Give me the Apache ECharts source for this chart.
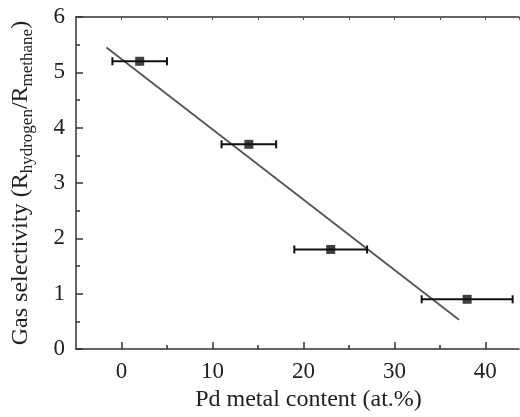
<!DOCTYPE html>
<html>
<head>
<meta charset="utf-8">
<script src="https://cdn.jsdelivr.net/npm/echarts@6/dist/echarts.min.js"></script>
<style>
  html, body { margin: 0; padding: 0; background: #fff; }
  #chart { width: 520px; height: 417px; }
</style>
</head>
<body>
<div id="chart"></div>
<script>
// measured points (Pd content vs. selectivity) with horizontal error
const pdContent = [2, 14, 23, 38];
const selectivity = [5.2, 3.7, 1.8, 0.9];
const pdError = [3, 3, 4, 5];

// fitted line endpoints as drawn
const fitLine = [[-1.65, 5.45], [37.1, 0.53]];

const xMajorTicks = [0, 10, 20, 30, 40];
const xMinorTicks = [5, 15, 25, 35];

const font = 'Liberation Serif';
const xMin = -5;
const xMax = 43.7;

const points = pdContent.map((x, i) => [x, selectivity[i]]);
const errorBars = pdContent.map((x, i) => [x, selectivity[i], x - pdError[i], x + pdError[i]]);

const myChart = echarts.init(document.getElementById('chart'));

const axisLine = { show: true, onZero: false, lineStyle: { color: '#333', width: 1.5 } };

const option = {
    animation: false,
    grid: { left: 76, right: 1, top: 17, bottom: 66 },
    xAxis: [
        {
            type: 'value',
            min: xMin,
            max: xMax,
            position: 'bottom',
            axisLine: axisLine,
            splitLine: { show: false },
            axisTick: {
                inside: true, length: 7, customValues: xMajorTicks,
                lineStyle: { color: '#333', width: 1.5 }
            },
            axisLabel: {
                customValues: xMajorTicks, margin: 11,
                fontFamily: font, fontSize: 23, color: '#222'
            },
            name: 'Pd metal content (at.%)',
            nameLocation: 'middle',
            nameGap: 37,
            nameTextStyle: { fontFamily: font, fontSize: 24, color: '#222', padding: [0, 0, 0, 22] }
        },
        {
            type: 'value',
            min: xMin,
            max: xMax,
            position: 'bottom',
            axisLine: { show: false, onZero: false },
            splitLine: { show: false },
            axisTick: {
                inside: true, length: 4, customValues: xMinorTicks,
                lineStyle: { color: '#333', width: 1.5 }
            },
            axisLabel: { show: false }
        },
        {
            type: 'value',
            min: xMin,
            max: xMax,
            interval: 5,
            position: 'top',
            axisLine: axisLine,
            splitLine: { show: false },
            axisTick: { inside: true, length: 3, lineStyle: { color: '#555', width: 1 } },
            axisLabel: { show: false }
        }
    ],
    yAxis: {
        type: 'value',
        min: 0,
        max: 6,
        interval: 1,
        axisLine: axisLine,
        splitLine: { show: false },
        axisTick: { inside: true, length: 7, lineStyle: { color: '#333', width: 1.5 } },
        minorTick: { show: true, splitNumber: 2, length: 4, lineStyle: { color: '#333', width: 1.5 } },
        axisLabel: { margin: 11, fontFamily: font, fontSize: 23, color: '#222' },
        name: '{m|Gas selectivity (R}{s|hydrogen}{m|/R}{s|methane}{m|)}',
        nameLocation: 'middle',
        nameRotate: 90,
        nameGap: 40,
        nameTextStyle: {
            fontFamily: font, fontSize: 24, color: '#222',
            rich: {
                m: { fontFamily: font, fontSize: 24, lineHeight: 30, color: '#222' },
                s: { fontFamily: font, fontSize: 17, lineHeight: 17, verticalAlign: 'bottom', color: '#222' }
            }
        }
    },
    series: [
        {
            type: 'line',
            data: fitLine,
            symbol: 'none',
            lineStyle: { color: '#555', width: 1.8 },
            z: 2
        },
        {
            type: 'custom',
            data: errorBars,
            encode: { x: 0, y: 1 },
            renderItem: (params, api) => {
                const y = api.value(1);
                const lo = api.coord([api.value(2), y]);
                const hi = api.coord([api.value(3), y]);
                const style = { stroke: '#111', lineWidth: 2 };
                const cap = 4;
                return {
                    type: 'group',
                    children: [
                        { type: 'line', shape: { x1: lo[0], y1: lo[1], x2: hi[0], y2: hi[1] }, style },
                        { type: 'line', shape: { x1: lo[0], y1: lo[1] - cap, x2: lo[0], y2: lo[1] + cap }, style },
                        { type: 'line', shape: { x1: hi[0], y1: hi[1] - cap, x2: hi[0], y2: hi[1] + cap }, style }
                    ]
                };
            },
            z: 3
        },
        {
            type: 'scatter',
            data: points,
            symbol: 'rect',
            symbolSize: 9,
            itemStyle: { color: '#111' },
            z: 4
        }
    ]
};

myChart.setOption(option);
</script>
</body>
</html>
